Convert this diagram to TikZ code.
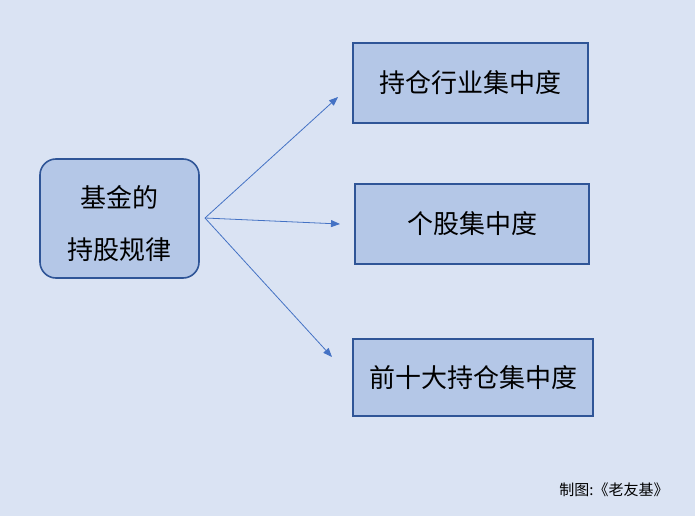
\documentclass[tikz,border=0pt]{standalone}
\usepackage{fontspec}
\newfontfamily\cjk{Noto Sans CJK SC}
\usetikzlibrary{arrows.meta}
\definecolor{bgblue}{HTML}{DAE3F3}
\definecolor{boxfill}{HTML}{B4C7E7}
\definecolor{boxline}{HTML}{2F5597}
\definecolor{arrowblue}{HTML}{4472C4}
\tikzset{
    every node/.style={font=\cjk\fontsize{26}{52}\selectfont, text=black}, % All text in CJK sans
    root/.style={draw=boxline, line width=1.6pt, fill=boxfill, rounded corners=16pt,
        minimum width=159pt, minimum height=119pt, align=center, inner sep=0pt,
        text height=85pt, text depth=3pt},
    topic/.style={draw=boxline, line width=1.6pt, fill=boxfill, inner sep=0pt},
    link/.style={color=arrowblue, line width=0.8pt, -{Triangle[length=9pt, width=7pt]}},
}

\begin{document}
\begin{tikzpicture}[x=1pt, y=-1pt]
    \fill[bgblue] (0,0) rectangle (695,516);
    \useasboundingbox (0,0) rectangle (695,516);

    \node[root] (rule) at (119.5,218.5) {基金的\\持股规律};
    \node[topic, minimum width=235pt, minimum height=80pt] (ind) at (470.5,83) {持仓行业集中度};
    \node[topic, minimum width=234pt, minimum height=80pt] (stk) at (472,224) {个股集中度};
    \node[topic, minimum width=240pt, minimum height=77pt] (top) at (473,377.5) {前十大持仓集中度};
    \node[font=\cjk\fontsize{15}{17}\selectfont] (credit) at (614,490) {制图:《老友基》};

    \coordinate (src) at (205,218);
    \coordinate (toind) at (338,97);
    \coordinate (tostk) at (340,224);
    \coordinate (totop) at (332,357);

    \path
        (src) edge [link] (toind)
              edge [link] (tostk)
              edge [link] (totop);
\end{tikzpicture}
\end{document}
